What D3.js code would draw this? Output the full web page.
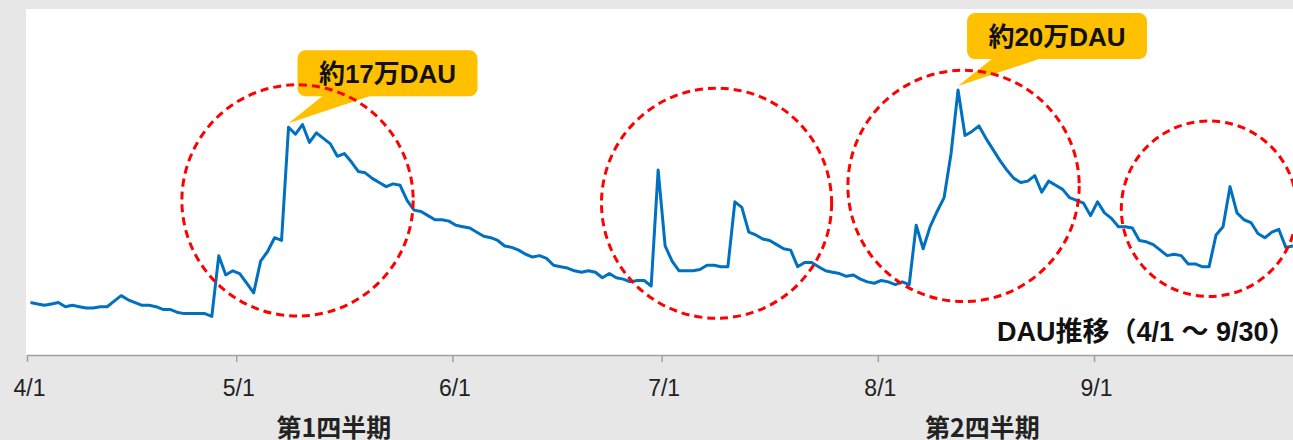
<!DOCTYPE html>
<html>
<head>
<meta charset="utf-8">
<script src="https://cdn.jsdelivr.net/npm/d3@7"></script>
<style>
  body { margin: 0; background: #e7e7e7; overflow: hidden; }
  svg { display: block; }
</style>
</head>
<body>
<div id="chart"></div>
<script>
// daily DAU (thousands), 4/1 .. 9/30
var startDay = "2023/4/1";
var dau = [
  38, 37, 36, 37, 38, 35, 36, 35, 34, 34, 35, 35, 39, 43, 40, 38, 36, 36, 35, 33,
  33, 31, 30, 30, 30, 30, 28, 72, 58, 61, 59, 52, 45, 68, 75, 85, 83, 165, 160, 167,
  154, 161, 157, 153, 144, 146, 140, 133, 132, 128, 125, 122, 124, 123, 112, 105, 104, 101, 98, 98,
  97, 94, 93, 92, 89, 86, 85, 83, 79, 78, 76, 73, 71, 72, 70, 65, 64, 63, 61, 60,
  61, 60, 56, 59, 56, 55, 53, 54, 54, 50, 134, 79, 68, 61, 61, 61, 62, 65, 65, 64,
  64, 111, 107, 89, 87, 84, 83, 80, 77, 76, 64, 67, 67, 64, 61, 60, 59, 57, 58, 55,
  53, 52, 54, 53, 51, 53, 51, 94, 77, 93, 104, 114, 146, 192, 159, 162, 166, 157, 149, 141,
  134, 128, 125, 126, 130, 118, 126, 123, 120, 114, 112, 110, 101, 111, 103, 99, 93, 93, 92, 83,
  82, 80, 76, 72, 73, 72, 66, 66, 64, 64, 87, 93, 122, 103, 98, 96, 88, 85, 89, 91,
  78, 79, 80
];
var tickLabels = ["4/1", "5/1", "6/1", "7/1", "8/1", "9/1"];
var quarterLabels = ["第1四半期", "第2四半期"];
var quarterAnchors = ["5/15", "8/16"];
var calloutTexts = ["約17万DAU", "約20万DAU"];
var calloutDates = ["5/8", "8/12"];
// highlighted periods: centre (days after 4/1), centre value, radius (days)
var circleDays = [38.8, 98.9, 134.3, 169.5];
var circleValues = [112, 110, 122.5, 106];
var circleRadius = [16.6, 16.5, 16.6, 12.6];
var title = "DAU推移（4/1 ～ 9/30）";

var width = 1293, height = 440;
var plot = { left: 26, top: 9, bottom: 355 };

var parse = function(s){ return d3.timeParse("%Y/%m/%d")(s.split("/").length == 2 ? "2023/" + s : s); };
var start = parse(startDay);
var days = dau.map(function(d, i){ return d3.timeDay.offset(start, i); });

var x = d3.scaleTime()
    .domain([start, d3.timeDay.offset(start, 183)])
    .range([27, 27 + 183 * 6.974]);
var y = d3.scaleLinear()
    .domain([0, 250])
    .range([plot.bottom, 10]);

// centre of a day
function xd(d){ return x(d3.timeHour.offset(d, 12)); }

var svg = d3.select("#chart")
    .append("svg")
        .attr("width", width)
        .attr("height", height);

svg.append("rect")
    .attr("x", plot.left)
    .attr("y", plot.top)
    .attr("width", width - plot.left + 20)
    .attr("height", plot.bottom - plot.top)
    .attr("fill", "#fff");

var data = days.map(function(d, i){ return { date: d, value: dau[i] }; });

var line = d3.line()
    .x(function(d){ return xd(d.date); })
    .y(function(d){ return y(d.value); });

svg.append("path")
    .datum(data)
    .attr("d", line)
    .attr("fill", "none")
    .attr("stroke", "#0070c0")
    .attr("stroke-width", 3)
    .attr("stroke-linejoin", "round");

// axis
var xAxis = d3.axisBottom(x)
    .tickValues(tickLabels.map(parse))
    .tickFormat(d3.timeFormat("%-m/%-d"))
    .tickSize(7)
    .tickSizeOuter(0)
    .tickPadding(18);

var gx = svg.append("g")
    .attr("transform", "translate(0," + plot.bottom + ")")
    .call(xAxis);
gx.select(".domain").attr("stroke", "#a0a0a0").attr("stroke-width", 1.5);
gx.selectAll(".tick line").attr("stroke", "#a0a0a0").attr("stroke-width", 1.5);
gx.selectAll(".tick text")
    .attr("fill", "#222")
    .attr("dx", 2)
    .attr("font-family", "Liberation Sans, Arial, sans-serif")
    .attr("font-size", "23px");

svg.selectAll(".quarter")
    .data(quarterLabels)
    .enter()
    .append("text")
    .attr("class", "quarter")
    .attr("x", function(d, i){ return x(parse(quarterAnchors[i])); })
    .attr("y", 437)
    .attr("text-anchor", "middle")
    .attr("font-family", "Noto Sans CJK JP, sans-serif")
    .attr("font-weight", "bold")
    .attr("font-size", "25px")
    .attr("fill", "#222")
    .text(function(d){ return d; });

// callouts
var callouts = calloutTexts.map(function(t, i){
    var d = parse(calloutDates[i]);
    var v = dau[d3.timeDay.count(start, d)];
    return { text: t, tx: xd(d), ty: y(v) - 4 };
});

var cg = svg.selectAll(".callout")
    .data(callouts)
    .enter()
    .append("g")
    .attr("class", "callout");

cg.append("path")
    .attr("d", function(d){
        var l = d.tx + 9, b = d.ty - 27;
        return "M" + d.tx + "," + d.ty + "L" + (l + 26) + "," + (b - 1) + "L" + (l + 75) + "," + (b - 1) + "Z";
    })
    .attr("fill", "#ffc000");

cg.append("rect")
    .attr("x", function(d){ return d.tx + 9; })
    .attr("y", function(d){ return d.ty - 73; })
    .attr("width", 180)
    .attr("height", 46)
    .attr("rx", 8)
    .attr("fill", "#ffc000");

cg.append("text")
    .attr("x", function(d){ return d.tx + 99; })
    .attr("y", function(d){ return d.ty - 40; })
    .attr("text-anchor", "middle")
    .attr("font-family", "Liberation Sans, Noto Sans CJK JP, sans-serif")
    .attr("font-weight", "bold")
    .attr("font-size", "26px")
    .attr("fill", "#111")
    .text(function(d){ return d.text; });

// dashed circles
svg.selectAll(".ring")
    .data(circleDays)
    .enter()
    .append("circle")
    .attr("class", "ring")
    .attr("cx", function(d){ return x(d3.timeHour.offset(start, d * 24)); })
    .attr("cy", function(d, i){ return y(circleValues[i]); })
    .attr("r", function(d, i){ return x(d3.timeHour.offset(start, circleRadius[i] * 24)) - x(start); })
    .attr("fill", "none")
    .attr("stroke", "#ff0000")
    .attr("stroke-width", 3)
    .attr("stroke-dasharray", "8,5");

svg.append("text")
    .attr("x", 997)
    .attr("y", 341)
    .attr("font-family", "Liberation Sans, Noto Sans CJK JP, sans-serif")
    .attr("font-weight", "bold")
    .attr("font-size", "27px")
    .attr("fill", "#111")
    .text(title);
</script>
</body>
</html>
